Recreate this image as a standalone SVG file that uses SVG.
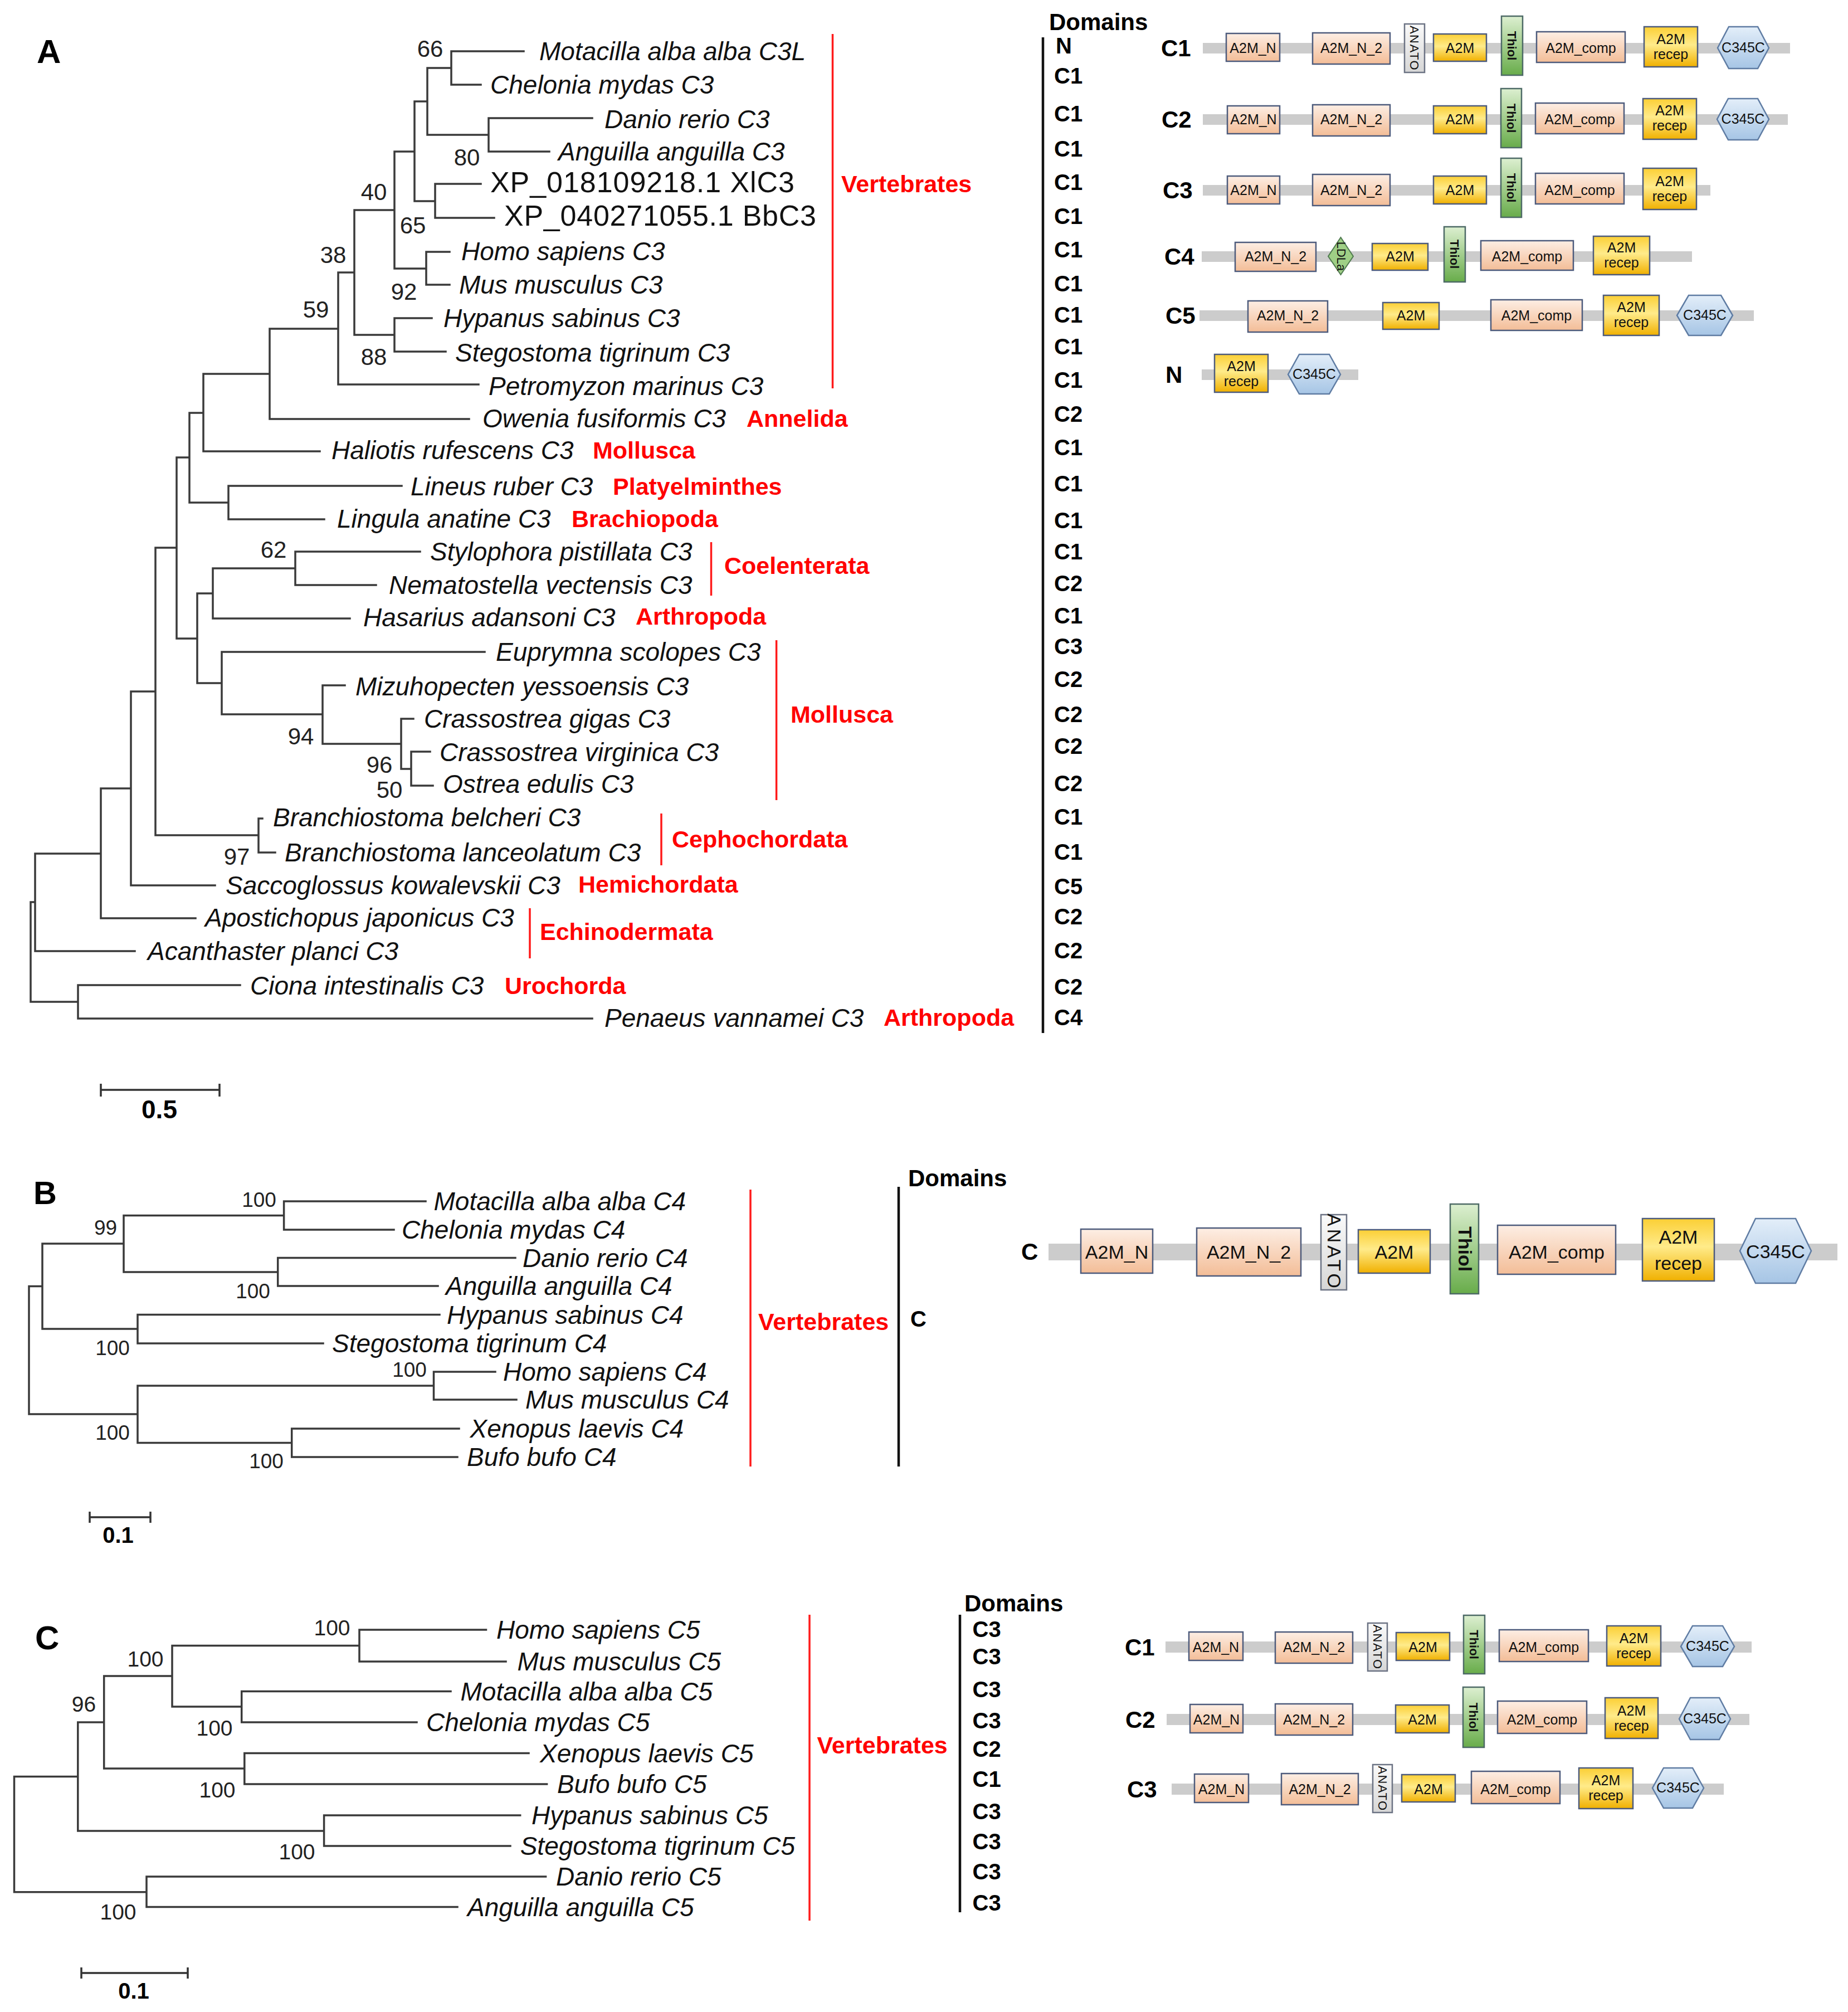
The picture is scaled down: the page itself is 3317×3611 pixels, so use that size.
<svg xmlns="http://www.w3.org/2000/svg" width="3317" height="3611" viewBox="0 0 3317 3611">
<defs>
<linearGradient id="gPe" x1="0" y1="0" x2="0" y2="1"><stop offset="0" stop-color="#fdeee4"/><stop offset="1" stop-color="#f3bd97"/></linearGradient>
<linearGradient id="gGo" x1="0" y1="0" x2="0" y2="1"><stop offset="0" stop-color="#fbcf35"/><stop offset="0.45" stop-color="#ffeb8a"/><stop offset="1" stop-color="#f0b000"/></linearGradient>
<linearGradient id="gGr" x1="0" y1="0" x2="0" y2="1"><stop offset="0" stop-color="#dcefd0"/><stop offset="1" stop-color="#68ac4a"/></linearGradient>
<linearGradient id="gBl" x1="0" y1="0" x2="0" y2="1"><stop offset="0" stop-color="#e3eef9"/><stop offset="1" stop-color="#a6c5e5"/></linearGradient>
<linearGradient id="gAn" x1="0" y1="0" x2="0" y2="1"><stop offset="0" stop-color="#fafafa"/><stop offset="1" stop-color="#d6d6d6"/></linearGradient>
</defs>
<style>
.br{fill:none;stroke:#3a3a3a;stroke-width:3.5;stroke-linecap:square}
.lf{font-family:"Liberation Sans",Arial,sans-serif;font-style:italic;font-size:46px;fill:#111}
.xp{font-family:"Liberation Sans",Arial,sans-serif;font-size:52px;fill:#111}
.bs{font-family:"Liberation Sans",Arial,sans-serif;font-size:42px;fill:#222;text-anchor:middle}
.bs2{font-family:"Liberation Sans",Arial,sans-serif;font-size:37px;fill:#222;text-anchor:middle}
.bs3{font-family:"Liberation Sans",Arial,sans-serif;font-size:39px;fill:#222;text-anchor:middle}
.grp{font-family:"Liberation Sans",Arial,sans-serif;font-weight:bold;font-size:43px;fill:#ff0000}
.rb{stroke:#ff1a1a;stroke-width:3.5}
.dl{font-family:"Liberation Sans",Arial,sans-serif;font-weight:bold;font-size:40px;fill:#000}
.kb{stroke:#111;stroke-width:4.5}
.pl{font-family:"Liberation Sans",Arial,sans-serif;font-weight:bold;fill:#000}
.sb{fill:none;stroke:#333;stroke-width:3.5}
.bb{fill:#cccccc}
.pe{fill:url(#gPe);stroke:#4d5b7c;stroke-width:2.5}
.go{fill:url(#gGo);stroke:#4d5b7c;stroke-width:2.5}
.th{fill:url(#gGr);stroke:#4d6a66;stroke-width:2.5}
.an{fill:url(#gAn);stroke:#6c7384;stroke-width:2.5}
.hx{fill:url(#gBl);stroke:#5f7ca3;stroke-width:2.5}
.ld{fill:#9fcf86;stroke:#4f7a4f;stroke-width:2}
.dt{font-family:"Liberation Sans",Arial,sans-serif;font-size:25px;fill:#111;text-anchor:middle}
.dv{font-family:"Liberation Sans",Arial,sans-serif;font-size:22px;fill:#111;text-anchor:middle}
.dtb{font-family:"Liberation Sans",Arial,sans-serif;font-size:34px;fill:#111;text-anchor:middle}
.rl{font-family:"Liberation Sans",Arial,sans-serif;font-weight:bold;font-size:42px;fill:#000}
</style>
<rect width="3317" height="3611" fill="#ffffff"/>

<!-- panel letters -->
<text class="pl" x="66" y="113" font-size="60">A</text>
<text class="pl" x="60" y="2161" font-size="58">B</text>
<text class="pl" x="63" y="2960" font-size="60">C</text>

<!-- connectors -->
<g id="connectors">
<path class="br" d="M810 92V152 M810 92H940 M810 152H863 M877 212V272 M877 212H1063 M877 272H986 M767 122V242 M767 122H810 M767 242H877 M781 330V391 M781 330H863 M781 391H887 M744 182V361 M744 182H767 M744 361H781 M765 452V511 M765 452H807 M765 511H807 M708 272V482 M708 272H744 M708 482H765 M708 571V631 M708 571H775 M708 631H800 M636 377V601 M636 377H708 M636 601H708 M607 489V690 M607 489H636 M607 690H859 M484 590V752 M484 590H607 M484 752H842 M365 671V810 M365 671H484 M365 810H574 M410 872V932 M410 872H721 M410 932H582 M340 741V902 M340 741H365 M340 902H410 M530 990V1050 M530 990H754 M530 1050H675 M382 1020V1110 M382 1020H530 M382 1110H628 M738 1349V1410 M738 1349H772 M738 1410H777 M720 1290V1380 M720 1290H742 M720 1380H738 M579 1230V1335 M579 1230H619 M579 1335H720 M398 1170V1282 M398 1170H870 M398 1282H579 M354 1065V1226 M354 1065H382 M354 1226H398 M317 821V1146 M317 821H340 M317 1146H354 M464 1469V1530 M464 1469H471 M464 1530H494 M279 983V1499 M279 983H317 M279 1499H464 M235 1241V1589 M235 1241H279 M235 1589H386 M181 1415V1648 M181 1415H235 M181 1648H351 M63 1532V1707 M63 1532H181 M63 1707H242 M140 1768V1828 M140 1768H431 M140 1828H1063 M55 1619V1798 M55 1619H63 M55 1798H140"/>
<path class="br" d="M509.6 2156V2207 M509.6 2156H764 M509.6 2207H707 M498.7 2257.5V2308 M498.7 2257.5H925 M498.7 2308H786 M222 2181.5V2283 M222 2181.5H509.6 M222 2283H498.7 M247 2359.6V2411 M247 2359.6H789 M247 2411H580 M76 2232V2385 M76 2232H222 M76 2385H247 M778.5 2462V2512 M778.5 2462H889 M778.5 2512H927 M523.7 2564V2615 M523.7 2564H824 M523.7 2615H821 M247 2487V2589.5 M247 2487H778.5 M247 2589.5H523.7 M52 2308.5V2538 M52 2308.5H76 M52 2538H247"/>
<path class="br" d="M645 2925V2982 M645 2925H872.5 M645 2982H908 M433.7 3035.6V3091 M433.7 3035.6H809 M433.7 3091H748 M309 2953.5V3063 M309 2953.5H645 M309 3063H433.7 M438.8 3146.5V3202 M438.8 3146.5H949 M438.8 3202H981.6 M186.7 3008V3174 M186.7 3008H309 M186.7 3174H438.8 M581.6 3258V3313 M581.6 3258H933.7 M581.6 3313H916 M139.8 3091V3286 M139.8 3091H186.7 M139.8 3286H581.6 M263 3368V3422.6 M263 3368H979.6 M263 3422.6H821 M25.5 3188.5V3395.7 M25.5 3188.5H139.8 M25.5 3395.7H263"/>
</g>

<!-- scale bars -->
<g id="scalebars">
<path class="sb" d="M181 1956H394 M181 1945V1968 M394 1945V1968"/>
<text class="pl" x="286" y="2007" font-size="46" text-anchor="middle">0.5</text>
<path class="sb" d="M161 2723H270 M161 2713V2733 M270 2713V2733"/>
<text class="pl" x="212" y="2769" font-size="40" text-anchor="middle">0.1</text>
<path class="sb" d="M146 3541H337 M146 3531V3551 M337 3531V3551"/>
<text class="pl" x="240" y="3587" font-size="40" text-anchor="middle">0.1</text>
</g>

<!-- Panel A leaves -->
<g id="treeA-leaves">
<text class="lf" x="968" y="108">Motacilla alba alba C3L</text>
<text class="lf" x="880" y="168">Chelonia mydas C3</text>
<text class="lf" x="1085" y="230">Danio rerio C3</text>
<text class="lf" x="1002" y="288">Anguilla anguilla C3</text>
<text class="xp" x="880" y="345" textLength="546" lengthAdjust="spacing">XP_018109218.1 XlC3</text>
<text class="xp" x="905" y="405" textLength="560" lengthAdjust="spacing">XP_040271055.1 BbC3</text>
<text class="lf" x="828" y="467">Homo sapiens C3</text>
<text class="lf" x="824" y="527">Mus musculus C3</text>
<text class="lf" x="796" y="587">Hypanus sabinus C3</text>
<text class="lf" x="817" y="649">Stegostoma tigrinum C3</text>
<text class="lf" x="877" y="709">Petromyzon marinus C3</text>
<text class="lf" x="866" y="767">Owenia fusiformis C3</text>
<text class="lf" x="595" y="824">Haliotis rufescens C3</text>
<text class="lf" x="737" y="889">Lineus ruber C3</text>
<text class="lf" x="605" y="947">Lingula anatine C3</text>
<text class="lf" x="772" y="1006">Stylophora pistillata C3</text>
<text class="lf" x="698" y="1066">Nematostella vectensis C3</text>
<text class="lf" x="652" y="1124">Hasarius adansoni C3</text>
<text class="lf" x="890" y="1186">Euprymna scolopes C3</text>
<text class="lf" x="638" y="1248">Mizuhopecten yessoensis C3</text>
<text class="lf" x="761" y="1306">Crassostrea gigas C3</text>
<text class="lf" x="789" y="1366">Crassostrea virginica C3</text>
<text class="lf" x="795" y="1423">Ostrea edulis C3</text>
<text class="lf" x="490" y="1483">Branchiostoma belcheri C3</text>
<text class="lf" x="511" y="1546">Branchiostoma lanceolatum C3</text>
<text class="lf" x="405" y="1605">Saccoglossus kowalevskii C3</text>
<text class="lf" x="368" y="1663">Apostichopus japonicus C3</text>
<text class="lf" x="265" y="1723">Acanthaster planci C3</text>
<text class="lf" x="449" y="1785">Ciona intestinalis C3</text>
<text class="lf" x="1085" y="1843">Penaeus vannamei C3</text>
</g>
<g id="treeA-support">
<text class="bs" x="772" y="102">66</text>
<text class="bs" x="838" y="297">80</text>
<text class="bs" x="671" y="359">40</text>
<text class="bs" x="741" y="419">65</text>
<text class="bs" x="598" y="472">38</text>
<text class="bs" x="725" y="538">92</text>
<text class="bs" x="567" y="570">59</text>
<text class="bs" x="671" y="655">88</text>
<text class="bs" x="491" y="1001">62</text>
<text class="bs" x="540" y="1336">94</text>
<text class="bs" x="681" y="1387">96</text>
<text class="bs" x="699" y="1432">50</text>
<text class="bs" x="425" y="1552">97</text>
</g>
<g id="treeA-groups">
<line class="rb" x1="1494.5" y1="61" x2="1494.5" y2="697"/>
<text class="grp" x="1510" y="345">Vertebrates</text>
<text class="grp" x="1340" y="766">Annelida</text>
<text class="grp" x="1064" y="823">Mollusca</text>
<text class="grp" x="1100" y="888">Platyelminthes</text>
<text class="grp" x="1026" y="946">Brachiopoda</text>
<line class="rb" x1="1276.5" y1="973" x2="1276.5" y2="1069"/>
<text class="grp" x="1300" y="1030">Coelenterata</text>
<text class="grp" x="1141" y="1121">Arthropoda</text>
<line class="rb" x1="1393.6" y1="1149" x2="1393.6" y2="1436"/>
<text class="grp" x="1419" y="1297">Mollusca</text>
<line class="rb" x1="1187" y1="1460" x2="1187" y2="1553"/>
<text class="grp" x="1206" y="1521">Cephochordata</text>
<text class="grp" x="1038" y="1602">Hemichordata</text>
<line class="rb" x1="951" y1="1630" x2="951" y2="1720"/>
<text class="grp" x="969" y="1687">Echinodermata</text>
<text class="grp" x="906" y="1784">Urochorda</text>
<text class="grp" x="1586" y="1841">Arthropoda</text>
</g>
<g id="treeA-domains-col">
<line class="kb" x1="1872" y1="67" x2="1872" y2="1854"/>
<text class="rl" x="1883" y="54">Domains</text>
<text class="dl" x="1895" y="96">N</text>
<text class="dl" x="1892" y="150">C1</text>
<text class="dl" x="1892" y="218">C1</text>
<text class="dl" x="1892" y="281">C1</text>
<text class="dl" x="1892" y="341">C1</text>
<text class="dl" x="1892" y="402">C1</text>
<text class="dl" x="1892" y="462">C1</text>
<text class="dl" x="1892" y="523">C1</text>
<text class="dl" x="1892" y="579">C1</text>
<text class="dl" x="1892" y="636">C1</text>
<text class="dl" x="1892" y="696">C1</text>
<text class="dl" x="1892" y="757">C2</text>
<text class="dl" x="1892" y="817">C1</text>
<text class="dl" x="1892" y="882">C1</text>
<text class="dl" x="1892" y="948">C1</text>
<text class="dl" x="1892" y="1004">C1</text>
<text class="dl" x="1892" y="1061">C2</text>
<text class="dl" x="1892" y="1119">C1</text>
<text class="dl" x="1892" y="1174">C3</text>
<text class="dl" x="1892" y="1233">C2</text>
<text class="dl" x="1892" y="1296">C2</text>
<text class="dl" x="1892" y="1353">C2</text>
<text class="dl" x="1892" y="1420">C2</text>
<text class="dl" x="1892" y="1480">C1</text>
<text class="dl" x="1892" y="1543">C1</text>
<text class="dl" x="1892" y="1605">C5</text>
<text class="dl" x="1892" y="1659">C2</text>
<text class="dl" x="1892" y="1720">C2</text>
<text class="dl" x="1892" y="1785">C2</text>
<text class="dl" x="1892" y="1840">C4</text>
</g>

<!-- Panel A domain architectures -->
<g id="domA-C1">
<text class="rl" x="2084" y="101">C1</text>
<rect class="bb" x="2159" y="77" width="1054" height="19"/>
<rect class="pe" x="2201" y="60" width="96" height="50"/><text class="dt" x="2249" y="95">A2M_N</text>
<rect class="pe" x="2356" y="59" width="139" height="56"/><text class="dt" x="2425.5" y="95">A2M_N_2</text>
<rect class="an" x="2521" y="43" width="36" height="87"/><text class="dv" letter-spacing="1.5" transform="translate(2539,86.5) rotate(90)" y="8">ANATO</text>
<rect class="go" x="2573" y="61" width="95" height="49"/><text class="dt" x="2620.5" y="95">A2M</text>
<rect class="th" x="2695" y="29" width="38" height="106"/><text class="dv" font-weight="bold" transform="translate(2714,82) rotate(90)" y="8">Thiol</text>
<rect class="pe" x="2758" y="57" width="159" height="55"/><text class="dt" x="2837.5" y="95">A2M_comp</text>
<rect class="go" x="2951" y="48" width="96" height="72"/><text class="dt" font-size="24" x="2999" y="79">A2M</text><text class="dt" font-size="24" x="2999" y="106">recep</text>
<polygon class="hx" points="3103,48 3155,48 3175,86 3155,123 3103,123 3083,86"/><text class="dt" font-size="23" x="3129" y="94">C345C</text>
</g>
<g id="domA-C2">
<text class="rl" x="2085" y="229">C2</text>
<rect class="bb" x="2159" y="205" width="1050" height="19"/>
<rect class="pe" x="2203" y="190" width="94" height="50"/><text class="dt" x="2250" y="223">A2M_N</text>
<rect class="pe" x="2356" y="188" width="139" height="56"/><text class="dt" x="2425.5" y="223">A2M_N_2</text>
<rect class="go" x="2573" y="190" width="95" height="50"/><text class="dt" x="2620.5" y="223">A2M</text>
<rect class="th" x="2694" y="159" width="37" height="106"/><text class="dv" font-weight="bold" transform="translate(2712.5,212) rotate(90)" y="8">Thiol</text>
<rect class="pe" x="2756" y="185" width="159" height="55"/><text class="dt" x="2835.5" y="223">A2M_comp</text>
<rect class="go" x="2949" y="177" width="96" height="73"/><text class="dt" font-size="24" x="2997" y="207">A2M</text><text class="dt" font-size="24" x="2997" y="234">recep</text>
<polygon class="hx" points="3102,177 3155,177 3175,214 3155,251 3102,251 3082,214"/><text class="dt" font-size="23" x="3128.5" y="222">C345C</text>
</g>
<g id="domA-C3">
<text class="rl" x="2087" y="356">C3</text>
<rect class="bb" x="2159" y="332" width="911" height="19"/>
<rect class="pe" x="2203" y="316" width="94" height="50"/><text class="dt" x="2250" y="350">A2M_N</text>
<rect class="pe" x="2356" y="313" width="139" height="56"/><text class="dt" x="2425.5" y="350">A2M_N_2</text>
<rect class="go" x="2573" y="316" width="95" height="50"/><text class="dt" x="2620.5" y="350">A2M</text>
<rect class="th" x="2694" y="284" width="37" height="106"/><text class="dv" font-weight="bold" transform="translate(2712.5,337) rotate(90)" y="8">Thiol</text>
<rect class="pe" x="2756" y="311" width="159" height="55"/><text class="dt" x="2835.5" y="350">A2M_comp</text>
<rect class="go" x="2949" y="302" width="96" height="74"/><text class="dt" font-size="24" x="2997" y="334">A2M</text><text class="dt" font-size="24" x="2997" y="361">recep</text>
</g>
<g id="domA-C4">
<text class="rl" x="2090" y="475">C4</text>
<rect class="bb" x="2157" y="451" width="880" height="19"/>
<rect class="pe" x="2217" y="435" width="145" height="52"/><text class="dt" x="2289.5" y="469">A2M_N_2</text>
<polygon class="ld" points="2406.5,426 2429,460 2406.5,493 2384,460"/><text class="dv" font-size="19" transform="translate(2406.5,460) rotate(90)" y="7">LDLa</text>
<rect class="go" x="2463" y="437" width="100" height="48"/><text class="dt" x="2513" y="469">A2M</text>
<rect class="th" x="2592" y="407" width="38" height="99"/><text class="dv" font-weight="bold" transform="translate(2611,456) rotate(90)" y="8">Thiol</text>
<rect class="pe" x="2658" y="432" width="166" height="53"/><text class="dt" x="2741" y="469">A2M_comp</text>
<rect class="go" x="2860" y="424" width="101" height="69"/><text class="dt" font-size="24" x="2910.5" y="453">A2M</text><text class="dt" font-size="24" x="2910.5" y="480">recep</text>
</g>
<g id="domA-C5">
<text class="rl" x="2092" y="581">C5</text>
<rect class="bb" x="2153" y="557" width="995" height="19"/>
<rect class="pe" x="2240" y="540" width="143" height="56"/><text class="dt" x="2311.5" y="575">A2M_N_2</text>
<rect class="go" x="2482" y="543" width="101" height="48"/><text class="dt" x="2532.5" y="575">A2M</text>
<rect class="pe" x="2676" y="538" width="164" height="55"/><text class="dt" x="2758" y="575">A2M_comp</text>
<rect class="go" x="2878" y="530" width="100" height="72"/><text class="dt" font-size="24" x="2928" y="560">A2M</text><text class="dt" font-size="24" x="2928" y="587">recep</text>
<polygon class="hx" points="3031,530 3089,530 3110,566 3089,602 3031,602 3010,566"/><text class="dt" font-size="23" x="3060" y="574">C345C</text>
</g>
<g id="domA-N">
<text class="rl" x="2092" y="687">N</text>
<rect class="bb" x="2157" y="663" width="281" height="19"/>
<rect class="go" x="2180" y="636" width="96" height="68"/><text class="dt" font-size="24" x="2228" y="666">A2M</text><text class="dt" font-size="24" x="2228" y="693">recep</text>
<polygon class="hx" points="2332,636 2386,636 2406,672 2386,707 2332,707 2312,672"/><text class="dt" font-size="23" x="2359" y="680">C345C</text>
</g>

<!-- Panel B -->
<g id="treeB-leaves">
<text class="lf" x="778.5" y="2172">Motacilla alba alba C4</text>
<text class="lf" x="721" y="2223">Chelonia mydas C4</text>
<text class="lf" x="938" y="2273.5">Danio rerio C4</text>
<text class="lf" x="800" y="2324">Anguilla anguilla C4</text>
<text class="lf" x="802" y="2375.6">Hypanus sabinus C4</text>
<text class="lf" x="596" y="2427">Stegostoma tigrinum C4</text>
<text class="lf" x="903" y="2478">Homo sapiens C4</text>
<text class="lf" x="943" y="2528">Mus musculus C4</text>
<text class="lf" x="843.5" y="2580">Xenopus laevis C4</text>
<text class="lf" x="838" y="2631">Bufo bufo C4</text>
</g>
<g id="treeB-support">
<text class="bs2" x="465" y="2166">100</text>
<text class="bs2" x="189.5" y="2216">99</text>
<text class="bs2" x="454" y="2330">100</text>
<text class="bs2" x="202" y="2432">100</text>
<text class="bs2" x="735" y="2471">100</text>
<text class="bs2" x="202" y="2584">100</text>
<text class="bs2" x="478" y="2635">100</text>
</g>
<g id="treeB-groups">
<line class="rb" x1="1347" y1="2135" x2="1347" y2="2632"/>
<text class="grp" x="1361" y="2387">Vertebrates</text>
<line class="kb" x1="1613" y1="2130" x2="1613" y2="2632"/>
<text class="rl" x="1630" y="2129">Domains</text>
<text class="dl" x="1634" y="2381" font-size="38">C</text>
</g>
<g id="domB-C">
<text class="rl" x="1833" y="2261" font-size="38">C</text>
<rect class="bb" x="1882" y="2232" width="1416" height="30"/>
<rect class="pe" x="1940" y="2206" width="129" height="79"/><text class="dtb" x="2004.5" y="2259">A2M_N</text>
<rect class="pe" x="2148" y="2204" width="187" height="86"/><text class="dtb" x="2241.5" y="2259">A2M_N_2</text>
<rect class="an" x="2371" y="2180" width="46" height="135"/><text class="dtb" font-size="31" letter-spacing="5" transform="translate(2394,2247.5) rotate(90)" y="11">ANATO</text>
<rect class="go" x="2438" y="2207" width="129" height="78"/><text class="dtb" x="2502.5" y="2259">A2M</text>
<rect class="th" x="2603" y="2161" width="51" height="161"/><text class="dtb" font-weight="bold" font-size="32" transform="translate(2628.5,2241.5) rotate(90)" y="11">Thiol</text>
<rect class="pe" x="2688" y="2199" width="212" height="88"/><text class="dtb" x="2794" y="2259">A2M_comp</text>
<rect class="go" x="2948" y="2187" width="129" height="112"/><text class="dtb" x="3012.5" y="2232">A2M</text><text class="dtb" x="3012.5" y="2279">recep</text>
<polygon class="hx" points="3151,2187 3223,2187 3251,2245 3223,2303 3151,2303 3123,2245"/><text class="dtb" x="3187" y="2258">C345C</text>
</g>

<!-- Panel C -->
<g id="treeC-leaves">
<text class="lf" x="891" y="2941">Homo sapiens C5</text>
<text class="lf" x="928.6" y="2998">Mus musculus C5</text>
<text class="lf" x="826.5" y="3051.6">Motacilla alba alba C5</text>
<text class="lf" x="765" y="3107">Chelonia mydas C5</text>
<text class="lf" x="969" y="3162.5">Xenopus laevis C5</text>
<text class="lf" x="1000" y="3218">Bufo bufo C5</text>
<text class="lf" x="954" y="3274">Hypanus sabinus C5</text>
<text class="lf" x="933.7" y="3329">Stegostoma tigrinum C5</text>
<text class="lf" x="998" y="3384">Danio rerio C5</text>
<text class="lf" x="839" y="3438.6">Anguilla anguilla C5</text>
</g>
<g id="treeC-support">
<text class="bs3" x="596" y="2935">100</text>
<text class="bs3" x="261" y="2991">100</text>
<text class="bs3" x="385" y="3115">100</text>
<text class="bs3" x="150.5" y="3072">96</text>
<text class="bs3" x="390" y="3226">100</text>
<text class="bs3" x="533" y="3337">100</text>
<text class="bs3" x="212" y="3445">100</text>
</g>
<g id="treeC-groups">
<line class="rb" x1="1453" y1="2898" x2="1453" y2="3447"/>
<text class="grp" x="1466.5" y="3147">Vertebrates</text>
<line class="kb" x1="1723" y1="2898" x2="1723" y2="3432"/>
<text class="rl" x="1731" y="2892">Domains</text>
<text class="dl" x="1745.5" y="2938">C3</text>
<text class="dl" x="1745.5" y="2987">C3</text>
<text class="dl" x="1745.5" y="3046">C3</text>
<text class="dl" x="1745.5" y="3102">C3</text>
<text class="dl" x="1745.5" y="3153">C2</text>
<text class="dl" x="1745.5" y="3207">C1</text>
<text class="dl" x="1745.5" y="3265">C3</text>
<text class="dl" x="1745.5" y="3319">C3</text>
<text class="dl" x="1745.5" y="3373">C3</text>
<text class="dl" x="1745.5" y="3429">C3</text>
</g>
<g id="domC-C1">
<text class="rl" x="2019" y="2971">C1</text>
<rect class="bb" x="2092" y="2946" width="1052" height="20"/>
<rect class="pe" x="2134" y="2929" width="97" height="51"/><text class="dt" x="2182.5" y="2965">A2M_N</text>
<rect class="pe" x="2289" y="2929" width="139" height="56"/><text class="dt" x="2358.5" y="2965">A2M_N_2</text>
<rect class="an" x="2455" y="2913" width="35" height="86"/><text class="dv" letter-spacing="1.5" transform="translate(2472.5,2956) rotate(90)" y="8">ANATO</text>
<rect class="go" x="2506" y="2930" width="96" height="50"/><text class="dt" x="2554" y="2965">A2M</text>
<rect class="th" x="2627" y="2899" width="38" height="105"/><text class="dv" font-weight="bold" transform="translate(2646,2951.5) rotate(90)" y="8">Thiol</text>
<rect class="pe" x="2691" y="2925" width="160" height="57"/><text class="dt" x="2771" y="2965">A2M_comp</text>
<rect class="go" x="2884" y="2918" width="97" height="72"/><text class="dt" font-size="24" x="2932.5" y="2949">A2M</text><text class="dt" font-size="24" x="2932.5" y="2976">recep</text>
<polygon class="hx" points="3038,2918 3092,2918 3113,2955 3092,2991 3038,2991 3017,2955"/><text class="dt" font-size="23" x="3065" y="2963">C345C</text>
</g>
<g id="domC-C2">
<text class="rl" x="2020" y="3101">C2</text>
<rect class="bb" x="2094" y="3076" width="1046" height="20"/>
<rect class="pe" x="2136" y="3059" width="95" height="51"/><text class="dt" x="2183.5" y="3095">A2M_N</text>
<rect class="pe" x="2289" y="3058" width="139" height="56"/><text class="dt" x="2358.5" y="3095">A2M_N_2</text>
<rect class="go" x="2505" y="3060" width="96" height="50"/><text class="dt" x="2553" y="3095">A2M</text>
<rect class="th" x="2626" y="3028" width="38" height="108"/><text class="dv" font-weight="bold" transform="translate(2645,3082) rotate(90)" y="8">Thiol</text>
<rect class="pe" x="2688" y="3053" width="160" height="58"/><text class="dt" x="2768" y="3095">A2M_comp</text>
<rect class="go" x="2881" y="3047" width="95" height="73"/><text class="dt" font-size="24" x="2928.5" y="3079">A2M</text><text class="dt" font-size="24" x="2928.5" y="3106">recep</text>
<polygon class="hx" points="3034,3047 3086,3047 3106,3085 3086,3122 3034,3122 3014,3085"/><text class="dt" font-size="23" x="3060" y="3093">C345C</text>
</g>
<g id="domC-C3">
<text class="rl" x="2023" y="3226">C3</text>
<rect class="bb" x="2103" y="3201" width="991" height="20"/>
<rect class="pe" x="2144" y="3184" width="97" height="51"/><text class="dt" x="2192.5" y="3220">A2M_N</text>
<rect class="pe" x="2300" y="3183" width="138" height="56"/><text class="dt" x="2369" y="3220">A2M_N_2</text>
<rect class="an" x="2464" y="3167" width="35" height="86"/><text class="dv" letter-spacing="1.5" transform="translate(2481.5,3210) rotate(90)" y="8">ANATO</text>
<rect class="go" x="2516" y="3185" width="96" height="49"/><text class="dt" x="2564" y="3220">A2M</text>
<rect class="pe" x="2641" y="3179" width="159" height="58"/><text class="dt" x="2720.5" y="3220">A2M_comp</text>
<rect class="go" x="2834" y="3173" width="97" height="73"/><text class="dt" font-size="24" x="2882.5" y="3204">A2M</text><text class="dt" font-size="24" x="2882.5" y="3231">recep</text>
<polygon class="hx" points="2986,3173 3038,3173 3058,3209 3038,3245 2986,3245 2966,3209"/><text class="dt" font-size="23" x="3012" y="3217">C345C</text>
</g>
</svg>
